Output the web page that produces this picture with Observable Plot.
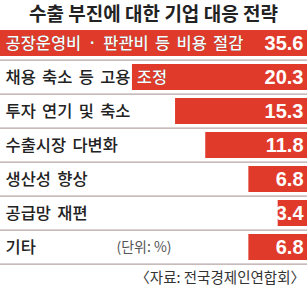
<!DOCTYPE html>
<html><head><meta charset="utf-8">
<script src="https://cdn.jsdelivr.net/npm/d3@7"></script>
<script src="https://cdn.jsdelivr.net/npm/@observablehq/plot@0.6"></script>
<style>
html,body{margin:0;padding:0;background:#fff;}
body{width:307px;height:299px;overflow:hidden;font-family:"Noto Sans CJK KR","Noto Sans",sans-serif;}
#title{height:25px;line-height:26px;text-align:center;font-size:19px;font-weight:700;color:#222;white-space:nowrap;}
#caption{text-align:right;padding-right:2px;font-size:14.5px;color:#333;line-height:20px;margin-top:1px;}
svg{display:block;}
</style></head><body>
<div id="title"></div>
<div id="chart"></div>
<div id="caption"></div>
<script>
const titleText = "수출 부진에 대한 기업 대응 전략";
const categories = ["공장운영비 · 판관비 등 비용 절감","채용 축소 등 고용 조정","투자 연기 및 축소","수출시장 다변화","생산성 향상","공급망 재편","기타"];
const values = [35.6,20.3,15.3,11.8,6.8,3.4,6.8];
const unitLabel = "(단위: %)";
const sourceText = "〈자료: 전국경제인연합회〉";

document.getElementById("title").textContent = titleText;
document.getElementById("caption").textContent = sourceText;

// fit label type to the reference's measured text extents
const FONT = '"Noto Sans CJK KR"';
const ctx = document.createElement("canvas").getContext("2d");
ctx.font = `500 16px ${FONT}`;
const part2 = "채용 축소 등 고용";
const w1 = ctx.measureText(categories[0]).width, n1 = 5;
const w2 = ctx.measureText(part2).width, n2 = 3;
const T1 = 238, T2 = 125;
// s*w/16 + ws*n = T
const a1 = w1/16, a2 = w2/16;
const det = a1*n2 - a2*n1;
let fs = (T1*n2 - T2*n1)/det;
let ws = (a1*T2 - a2*T1)/det;
if (!(fs > 13 && fs < 19)) { fs = 16; ws = 0; }
ws = Math.max(-4, Math.min(6, ws));

const data = categories.map((c,i)=>({cat:c, value:values[i]}));
const RED = "#e03a2a";
const rowH = 34.2;
const H = rowH*categories.length + 2;

const chart = Plot.plot({
  width: 307, height: H,
  margin: 0,
  x: {domain:[0, 35.6], range:[307, 0], axis:null},
  y: {domain:categories, range:[0, rowH*categories.length], padding:0, axis:null},
  style:{fontFamily:'"Noto Sans CJK KR",sans-serif', background:"#fff"},
  marks: [
    Plot.ruleY(categories, {y: d=>d, dy: rowH/2 - 0.5, stroke:"#b8a4a4", strokeWidth:1.2}),
    Plot.barX(data, {y:"cat", x1:0, x2:"value", fill:RED, insetTop:4, insetBottom:4, className:"bars"}),
    Plot.text(data, {y:"cat", text:"cat", frameAnchor:"left", dx:5, fill:"#222", fontSize:fs, fontWeight:500, textAnchor:"start", className:"lbl"}),
    Plot.text(data, {y:"cat", text:"cat", frameAnchor:"left", dx:5, fill:"#fff", fontSize:fs, fontWeight:500, textAnchor:"start", className:"lbl lblLight"}),
    Plot.text(data, {y:"cat", text:d=>d.value.toFixed(1), frameAnchor:"right", dx:-4, fill:"#fff", fontSize:20, fontWeight:700, textAnchor:"end", fontFamily:'"Liberation Sans Narrow","Liberation Sans",sans-serif'}),
    Plot.text([unitLabel], {y:[categories[categories.length-1]], text:d=>d, frameAnchor:"left", dx:116, fill:"#555", fontSize:14, textAnchor:"start"})
  ]
});

const svg = d3.select(chart);
svg.selectAll("g.lbl text").style("word-spacing", ws + "px");

// clip the white label copy to the red bars
const defs = svg.insert("defs", ":first-child");
const cp = defs.append("clipPath").attr("id","barclip").attr("clipPathUnits","userSpaceOnUse");
const barG = svg.select("g.bars");
const barT = barG.attr("transform");
barG.selectAll("rect").each(function(){
  const r = d3.select(this);
  const c = cp.append("rect").attr("x", r.attr("x")).attr("y", r.attr("y")).attr("width", r.attr("width")).attr("height", r.attr("height"));
  const rt = r.attr("transform");
  const t = [barT, rt].filter(Boolean).join(" ");
  if (t) c.attr("transform", t);
});
const light = svg.select("g.lblLight").node();
const wrap = document.createElementNS("http://www.w3.org/2000/svg","g");
wrap.setAttribute("clip-path","url(#barclip)");
light.parentNode.insertBefore(wrap, light);
wrap.appendChild(light);

document.getElementById("chart").appendChild(chart);
</script>
</body></html>
